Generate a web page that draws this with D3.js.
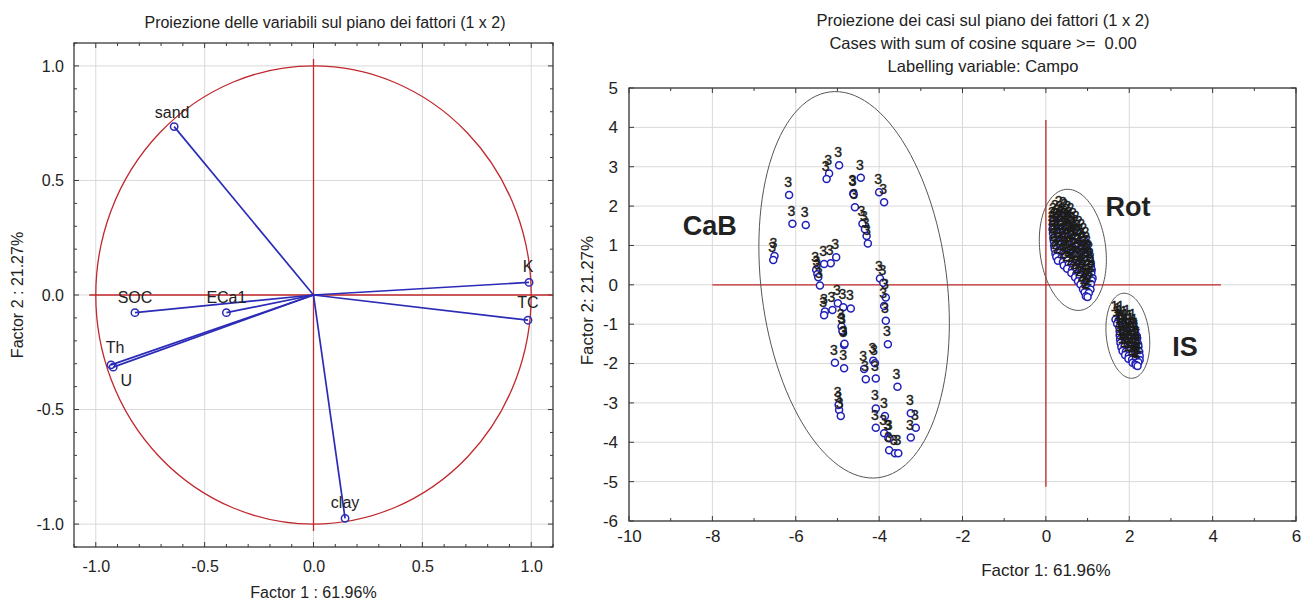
<!DOCTYPE html>
<html>
<head>
<meta charset="utf-8">
<script src="https://cdn.jsdelivr.net/npm/d3@7"></script>
<style>
  body { margin: 0; background: #fff; }
  svg text { font-family: "Liberation Sans", Arial, sans-serif; fill: #222; }
</style>
</head>
<body>
<svg id="chart" width="1314" height="603"></svg>
<script>
// ---- Variable loadings on factors 1 and 2 ----
const varNames        = ["sand", "SOC", "ECa1", "Th", "U", "K", "TC", "clay"];
const factor1Loadings = [-0.64, -0.82, -0.40, -0.93, -0.92, 0.99, 0.985, 0.145];
const factor2Loadings = [0.735, -0.077, -0.077, -0.305, -0.315, 0.055, -0.11, -0.975];
const loadingTicks    = [-1.0, -0.5, 0.0, 0.5, 1.0];

// ---- Case scores, grouped by the labelling variable "Campo" ----
const campoLabels = ["3", "2", "1"];
const casesCampo3 = [
  [-4.96, 3.04], [-5.20, 2.83], [-5.26, 2.69], [-4.44, 2.72], [-4.62, 2.32], [-4.61, 2.30],
  [-4.00, 2.35], [-3.88, 2.10], [-6.16, 2.28], [-4.58, 1.97], [-6.08, 1.55], [-5.76, 1.52],
  [-4.40, 1.55], [-4.34, 1.41], [-4.30, 1.24], [-4.27, 1.05], [-6.51, 0.73], [-6.54, 0.63],
  [-5.03, 0.70], [-5.16, 0.55], [-5.32, 0.53], [-5.51, 0.38], [-5.48, 0.27], [-5.46, 0.19],
  [-5.42, -0.02], [-3.98, 0.16], [-3.90, 0.05], [-3.84, -0.32], [-3.88, -0.54], [-3.84, -0.91],
  [-4.99, -0.47], [-4.86, -0.57], [-4.68, -0.60], [-5.12, -0.64], [-5.30, -0.68], [-5.32, -0.77],
  [-4.90, -1.06], [-4.87, -1.19], [-4.88, -1.17], [-3.79, -1.51], [-4.84, -1.53], [-4.83, -1.50],
  [-5.06, -1.98], [-4.84, -2.12], [-4.36, -2.14], [-4.14, -1.93], [-4.10, -1.99], [-4.32, -2.40],
  [-4.08, -2.38], [-3.56, -2.59], [-4.96, -3.18], [-4.92, -3.33], [-4.97, -3.05], [-4.08, -3.14],
  [-3.86, -3.33], [-4.08, -3.63], [-3.88, -3.77], [-3.78, -3.88], [-3.75, -3.90], [-3.24, -3.26],
  [-3.12, -3.63], [-3.24, -3.88], [-3.76, -4.20], [-3.62, -4.28], [-3.54, -4.28]
];
const casesCampo2 = [
  [0.33, 1.81], [0.43, 1.77],
  [0.24, 1.71], [0.35, 1.68], [0.46, 1.72], [0.54, 1.67],
  [0.19, 1.62], [0.29, 1.58], [0.40, 1.61], [0.51, 1.59], [0.61, 1.63],
  [0.17, 1.52], [0.27, 1.49], [0.36, 1.53], [0.47, 1.48], [0.57, 1.51], [0.67, 1.50],
  [0.16, 1.41], [0.25, 1.38], [0.34, 1.42], [0.44, 1.39], [0.55, 1.43], [0.64, 1.37], [0.74, 1.41],
  [0.17, 1.31], [0.26, 1.28], [0.35, 1.32], [0.45, 1.29], [0.54, 1.33], [0.63, 1.27], [0.72, 1.31], [0.81, 1.29],
  [0.18, 1.19], [0.28, 1.22], [0.37, 1.18], [0.47, 1.21], [0.58, 1.17], [0.67, 1.22], [0.77, 1.19], [0.87, 1.21],
  [0.19, 1.11], [0.29, 1.08], [0.40, 1.12], [0.50, 1.09], [0.60, 1.13], [0.71, 1.07], [0.82, 1.10], [0.92, 1.12],
  [0.20, 0.99], [0.31, 1.02], [0.42, 0.98], [0.53, 1.01], [0.64, 0.97], [0.75, 1.03], [0.86, 0.99], [0.97, 1.01],
  [0.21, 0.91], [0.32, 0.88], [0.44, 0.92], [0.55, 0.89], [0.66, 0.93], [0.77, 0.87], [0.89, 0.91], [0.99, 0.89],
  [0.23, 0.79], [0.34, 0.82], [0.46, 0.78], [0.57, 0.81], [0.68, 0.77], [0.80, 0.83], [0.91, 0.79], [1.01, 0.81],
  [0.25, 0.71], [0.37, 0.68], [0.48, 0.72], [0.60, 0.69], [0.71, 0.73], [0.83, 0.67], [0.94, 0.71], [1.04, 0.69],
  [0.29, 0.61], [0.41, 0.58], [0.52, 0.62], [0.63, 0.59], [0.75, 0.63], [0.86, 0.57], [0.97, 0.61], [1.06, 0.62],
  [0.43, 0.49], [0.55, 0.52], [0.66, 0.48], [0.77, 0.51], [0.88, 0.47], [0.99, 0.52], [1.08, 0.49],
  [0.51, 0.41], [0.63, 0.38], [0.74, 0.42], [0.86, 0.39], [0.98, 0.41], [1.10, 0.38],
  [0.61, 0.30], [0.73, 0.27], [0.85, 0.31], [0.97, 0.28], [1.09, 0.30],
  [0.70, 0.19], [0.81, 0.22], [0.92, 0.18], [1.02, 0.21], [1.12, 0.17],
  [0.77, 0.09], [0.88, 0.12], [0.99, 0.08], [1.10, 0.11],
  [0.83, 0.01], [0.95, -0.02], [1.08, 0.02],
  [0.89, -0.11], [0.99, -0.08], [1.07, -0.12],
  [0.93, -0.19], [1.03, -0.21],
  [0.96, -0.29], [1.00, -0.31]
];
const casesCampo1 = [
  [1.67, -0.88], [1.74, -0.91], [1.81, -0.87],
  [1.71, -0.99], [1.80, -0.96], [1.89, -1.00], [1.97, -0.97],
  [1.76, -1.08], [1.84, -1.10], [1.93, -1.06], [2.02, -1.09], [2.10, -1.07],
  [1.77, -1.18], [1.86, -1.16], [1.95, -1.20], [2.05, -1.17], [2.14, -1.19],
  [1.77, -1.28], [1.85, -1.30], [1.93, -1.26], [2.01, -1.29], [2.10, -1.27], [2.18, -1.30],
  [1.78, -1.38], [1.86, -1.36], [1.94, -1.40], [2.03, -1.37], [2.11, -1.39], [2.19, -1.36],
  [1.79, -1.48], [1.88, -1.50], [1.96, -1.46], [2.04, -1.49], [2.13, -1.47], [2.21, -1.50],
  [1.81, -1.58], [1.89, -1.56], [1.98, -1.60], [2.06, -1.57], [2.15, -1.59], [2.22, -1.56],
  [1.84, -1.68], [1.92, -1.70], [2.00, -1.66], [2.09, -1.69], [2.17, -1.67], [2.24, -1.70],
  [1.90, -1.78], [1.99, -1.80], [2.08, -1.77], [2.17, -1.79], [2.25, -1.81],
  [1.98, -1.88], [2.07, -1.90], [2.16, -1.87], [2.25, -1.91],
  [2.08, -1.98], [2.15, -2.00], [2.22, -1.97],
  [2.16, -2.04], [2.20, -2.06]
];
const scoreTicksX = [-10, -8, -6, -4, -2, 0, 2, 4, 6];
const scoreTicksY = [-6, -5, -4, -3, -2, -1, 0, 1, 2, 3, 4, 5];

// ---- Cluster outlines (centre, semi-axis vectors in score units) ----
const clusterNames   = ["CaB", "Rot", "IS"];
const clusterCenters = [[-4.60, 0.00], [0.647, 0.888], [1.966, -1.294]];
const clusterAxisA   = [[0.58, -4.90], [0.18, -1.535], [0.12, -1.079]];
const clusterAxisB   = [[2.21, 0.29], [0.784, 0.103], [0.512, 0.064]];
const clusterTagAt   = [[-8.06, 1.49], [1.97, 1.98], [3.34, -1.58]];

// ------------------------------------------------------------------
const svg = d3.select("#chart");
const RED = "#c0282d", BLUE = "#2b2bb8", GRID = "#d9d9d9", FRAME = "#3a3a3a";
const fmt1 = d => d.toFixed(1);

// =================== Left: variables on the factor plane ===================
const L = { left: 74, right: 553, top: 43, bottom: 547 };
const lx = d3.scaleLinear().domain([-1.1, 1.1]).range([L.left, L.right]);
const ly = d3.scaleLinear().domain([-1.1, 1.1]).range([L.bottom, L.top]);
const gl = svg.append("g");

gl.append("g").selectAll("line").data(loadingTicks).join("line")
  .attr("x1", d => lx(d)).attr("x2", d => lx(d)).attr("y1", L.top).attr("y2", L.bottom)
  .attr("stroke", GRID).attr("stroke-width", 1);
gl.append("g").selectAll("line").data(loadingTicks).join("line")
  .attr("x1", L.left).attr("x2", L.right).attr("y1", d => ly(d)).attr("y2", d => ly(d))
  .attr("stroke", GRID).attr("stroke-width", 1);

// minor/major frame ticks, pointing inward
const lMinor = d3.range(-11, 12).map(i => i / 10);
function frameTicks(g, xs, ys, box, sx, sy, isMajor, major, minor) {
  xs.forEach(v => {
    const len = isMajor(v) ? major : minor;
    g.append("line").attr("x1", sx(v)).attr("x2", sx(v)).attr("y1", box.bottom).attr("y2", box.bottom - len).attr("stroke", FRAME);
    g.append("line").attr("x1", sx(v)).attr("x2", sx(v)).attr("y1", box.top).attr("y2", box.top + len).attr("stroke", FRAME);
  });
  ys.forEach(v => {
    const len = isMajor(v, true) ? major : minor;
    g.append("line").attr("y1", sy(v)).attr("y2", sy(v)).attr("x1", box.left).attr("x2", box.left + len).attr("stroke", FRAME);
    g.append("line").attr("y1", sy(v)).attr("y2", sy(v)).attr("x1", box.right).attr("x2", box.right - len).attr("stroke", FRAME);
  });
}
frameTicks(gl, lMinor, lMinor, L, lx, ly, v => Math.abs(v * 2 - Math.round(v * 2)) < 1e-6, 5, 3);

// unit circle and red axes
gl.append("ellipse").attr("cx", lx(0)).attr("cy", ly(0))
  .attr("rx", lx(1) - lx(0)).attr("ry", ly(0) - ly(1))
  .attr("fill", "none").attr("stroke", RED).attr("stroke-width", 1.3);
gl.append("line").attr("x1", lx(-1.03)).attr("x2", lx(1.1)).attr("y1", ly(0)).attr("y2", ly(0))
  .attr("stroke", RED).attr("stroke-width", 1.3);
gl.append("line").attr("x1", lx(0)).attr("x2", lx(0)).attr("y1", ly(1.03)).attr("y2", ly(-1.03))
  .attr("stroke", RED).attr("stroke-width", 1.3);

// loading vectors
const loadings = varNames.map((n, i) => ({ name: n, f1: factor1Loadings[i], f2: factor2Loadings[i] }));
gl.append("g").selectAll("line").data(loadings).join("line")
  .attr("x1", lx(0)).attr("y1", ly(0)).attr("x2", d => lx(d.f1)).attr("y2", d => ly(d.f2))
  .attr("stroke", BLUE).attr("stroke-width", 1.7);
gl.append("g").selectAll("circle").data(loadings).join("circle")
  .attr("cx", d => lx(d.f1)).attr("cy", d => ly(d.f2)).attr("r", 3.7)
  .attr("fill", "none").attr("stroke", BLUE).attr("stroke-width", 1.5);

const nameNudge = { sand: [-2, -9], SOC: [0, -10], ECa1: [0, -10], Th: [4, -12], U: [13, 19], K: [-1, -10], TC: [0, -12], clay: [0, -10] };
gl.append("g").selectAll("text").data(loadings).join("text")
  .attr("x", d => lx(d.f1) + nameNudge[d.name][0]).attr("y", d => ly(d.f2) + nameNudge[d.name][1])
  .attr("text-anchor", "middle").attr("font-size", 16).attr("fill", "#1a1a1a").text(d => d.name);

gl.append("rect").attr("x", L.left).attr("y", L.top).attr("width", L.right - L.left).attr("height", L.bottom - L.top)
  .attr("fill", "none").attr("stroke", FRAME).attr("stroke-width", 1.3);

const lAxisX = gl.append("g").attr("transform", `translate(0,${L.bottom})`)
  .call(d3.axisBottom(lx).tickValues(loadingTicks).tickFormat(fmt1).tickSize(0).tickPadding(14));
const lAxisY = gl.append("g").attr("transform", `translate(${L.left},0)`)
  .call(d3.axisLeft(ly).tickValues(loadingTicks).tickFormat(fmt1).tickSize(0).tickPadding(10));
[lAxisX, lAxisY].forEach(a => { a.select(".domain").remove(); a.selectAll("text").attr("font-size", 16).attr("fill", "#222"); });

gl.append("text").attr("x", 325).attr("y", 28).attr("text-anchor", "middle")
  .attr("font-size", 16).text("Proiezione delle variabili sul piano dei fattori (1 x 2)");
gl.append("text").attr("x", lx(0)).attr("y", 598).attr("text-anchor", "middle")
  .attr("font-size", 16).text("Factor 1 : 61.96%");
gl.append("text").attr("transform", `translate(23,${ly(0)}) rotate(-90)`).attr("text-anchor", "middle")
  .attr("font-size", 16).text("Factor 2 : 21.27%");

// =================== Right: cases on the factor plane ===================
const R = { left: 629, right: 1296, top: 88, bottom: 521 };
const rx = d3.scaleLinear().domain([-10, 6]).range([R.left, R.right]);
const ry = d3.scaleLinear().domain([-6, 5]).range([R.bottom, R.top]);
const gr = svg.append("g");

gr.append("g").selectAll("line").data(scoreTicksX).join("line")
  .attr("x1", d => rx(d)).attr("x2", d => rx(d)).attr("y1", R.top).attr("y2", R.bottom)
  .attr("stroke", GRID);
gr.append("g").selectAll("line").data(scoreTicksY).join("line")
  .attr("x1", R.left).attr("x2", R.right).attr("y1", d => ry(d)).attr("y2", d => ry(d))
  .attr("stroke", GRID);
frameTicks(gr, d3.range(-10, 7), scoreTicksY, R, rx, ry,
  (v, vertical) => vertical ? true : v % 2 === 0, 5, 3);

gr.append("line").attr("x1", rx(-8)).attr("x2", rx(4.2)).attr("y1", ry(0)).attr("y2", ry(0))
  .attr("stroke", RED).attr("stroke-width", 1.3);
gr.append("line").attr("x1", rx(0)).attr("x2", rx(0)).attr("y1", ry(4.19)).attr("y2", ry(-5.13))
  .attr("stroke", RED).attr("stroke-width", 1.3);

// cluster outlines
const outline = d3.line().curve(d3.curveLinearClosed);
clusterNames.forEach((name, i) => {
  const c = clusterCenters[i], A = clusterAxisA[i], B = clusterAxisB[i];
  const pts = d3.range(0, 120).map(k => {
    const t = k / 120 * 2 * Math.PI;
    return [rx(c[0] + Math.cos(t) * A[0] + Math.sin(t) * B[0]),
            ry(c[1] + Math.cos(t) * A[1] + Math.sin(t) * B[1])];
  });
  gr.append("path").attr("d", outline(pts)).attr("fill", "none").attr("stroke", "#555").attr("stroke-width", 1);
  gr.append("text").attr("x", rx(clusterTagAt[i][0])).attr("y", ry(clusterTagAt[i][1]) + 9)
    .attr("text-anchor", "middle").attr("font-family", "Lato, 'Open Sans', sans-serif")
    .attr("font-weight", "bold").attr("font-size", 27).attr("fill", "#111").text(name);
});

// case markers and their Campo labels
const cases = [casesCampo3, casesCampo2, casesCampo1].flatMap((arr, gi) =>
  arr.map(p => ({ x: p[0], y: p[1], label: campoLabels[gi] })));
gr.append("g").selectAll("circle").data(cases).join("circle")
  .attr("cx", d => rx(d.x)).attr("cy", d => ry(d.y)).attr("r", 3.5)
  .attr("fill", "#fff").attr("stroke", "#2020b8").attr("stroke-width", 1.5);
gr.append("g").selectAll("text").data(cases).join("text")
  .attr("x", d => rx(d.x) - 1).attr("y", d => ry(d.y) - 8)
  .attr("text-anchor", "middle").attr("font-size", 14).attr("fill", "#161610")
  .attr("stroke", "#161610").attr("stroke-width", 0.35).text(d => d.label);

gr.append("rect").attr("x", R.left).attr("y", R.top).attr("width", R.right - R.left).attr("height", R.bottom - R.top)
  .attr("fill", "none").attr("stroke", FRAME).attr("stroke-width", 1.3);

const rAxisX = gr.append("g").attr("transform", `translate(0,${R.bottom})`)
  .call(d3.axisBottom(rx).tickValues(scoreTicksX).tickFormat(d => String(d)).tickSize(0).tickPadding(9));
const rAxisY = gr.append("g").attr("transform", `translate(${R.left},0)`)
  .call(d3.axisLeft(ry).tickValues(scoreTicksY).tickFormat(d => String(d)).tickSize(0).tickPadding(11));
[rAxisX, rAxisY].forEach(a => { a.select(".domain").remove(); a.selectAll("text").attr("font-size", 17).attr("fill", "#222"); });

const titleLines = ["Proiezione dei casi sul piano dei fattori (1 x 2)",
                    "Cases with sum of cosine square >=  0.00",
                    "Labelling variable: Campo"];
gr.append("g").selectAll("text").data(titleLines).join("text")
  .attr("x", 983).attr("y", (d, i) => 26 + i * 23).attr("text-anchor", "middle")
  .attr("font-size", 16.5).attr("xml:space", "preserve").style("white-space", "pre").text(d => d);
gr.append("text").attr("x", rx(0)).attr("y", 576).attr("text-anchor", "middle")
  .attr("font-size", 17).text("Factor 1: 61.96%");
gr.append("text").attr("transform", `translate(593,${ry(-0.4)}) rotate(-90)`).attr("text-anchor", "middle")
  .attr("font-size", 17).text("Factor 2: 21.27%");
</script>
</body>
</html>
